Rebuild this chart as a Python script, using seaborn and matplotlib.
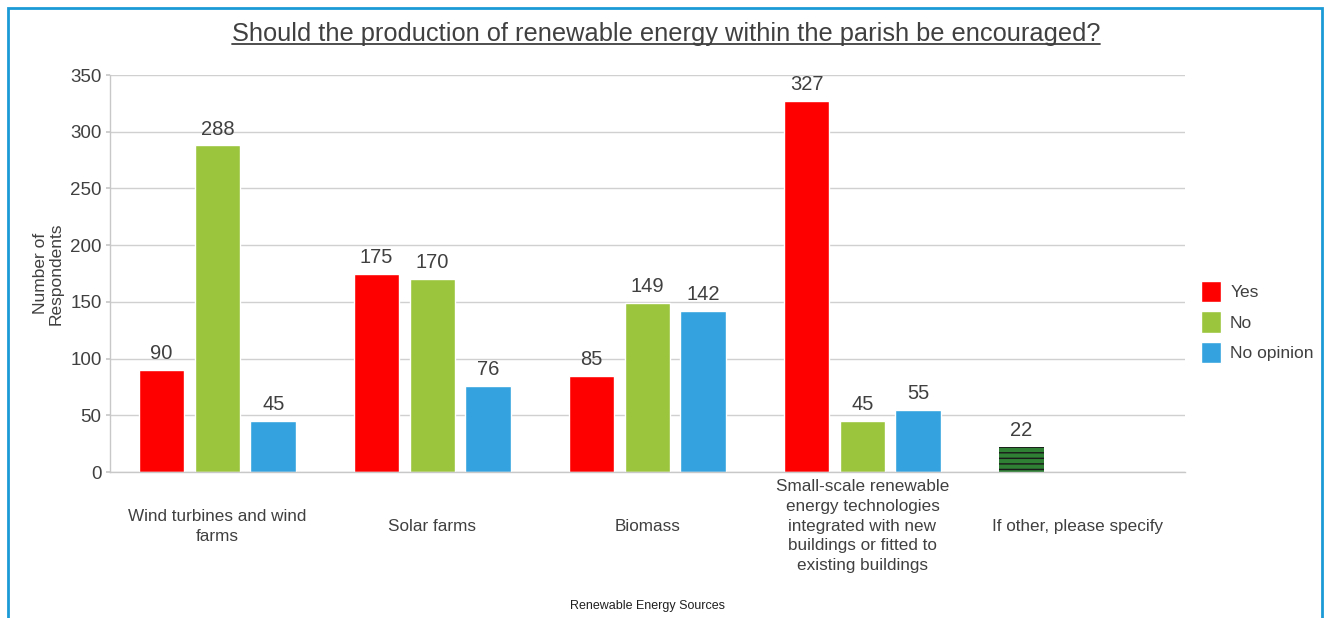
import matplotlib
matplotlib.use("Agg")
import matplotlib.pyplot as plt
from matplotlib.patches import Rectangle
from matplotlib.lines import Line2D
import numpy as np
import pandas as pd
import seaborn as sns

# Survey responses per renewable energy source
categories = [
    "Wind turbines and wind\nfarms",
    "Solar farms",
    "Biomass",
    "Small-scale renewable\nenergy technologies\nintegrated with new\nbuildings or fitted to\nexisting buildings",
    "If other, please specify",
]
responses = ["Yes", "No", "No opinion"]
yes_counts = [90, 175, 85, 327, 22]
no_counts = [288, 170, 149, 45, np.nan]
no_opinion_counts = [45, 76, 142, 55, np.nan]
y_ticks = [0, 50, 100, 150, 200, 250, 300, 350]

palette = {"Yes": "#FF0000", "No": "#9BC53D", "No opinion": "#33A2DE"}
other_colour = "#2F7F35"
text_colour = "#404040"

df = pd.DataFrame({
    "Source": categories * 3,
    "Response": [r for r in responses for _ in categories],
    "Count": yes_counts + no_counts + no_opinion_counts,
})

sns.set_theme(style="white")
plt.rcParams["font.family"] = ["Liberation Sans", "DejaVu Sans"]
plt.rcParams["hatch.color"] = "#1a1a1a"
plt.rcParams["hatch.linewidth"] = 1.0

fig = plt.figure(figsize=(13.28, 6.18), dpi=100)
ax = fig.add_axes([0.0828, 0.2362, 0.8095, 0.6424])

sns.barplot(data=df, x="Source", y="Count", hue="Response", order=categories,
            hue_order=responses, palette=palette, width=0.78, gap=0.18,
            saturation=1, ax=ax, legend=True)

# Value labels above each bar; the free-text bar gets its own fill
for container, resp in zip(ax.containers, responses):
    for i, (patch, val) in enumerate(zip(container.patches, df[df.Response == resp].Count)):
        if np.isnan(val):
            continue
        if resp == "Yes" and i == len(categories) - 1:
            patch.set_facecolor(other_colour)
            patch.set_hatch("---")
            patch.set_edgecolor("#1a1a1a")
            patch.set_linewidth(0)
        ax.text(patch.get_x() + patch.get_width() / 2, val + 6, f"{int(val)}",
                ha="center", va="bottom", fontsize=14.5, color=text_colour)

ax.set_xlim(-0.5, 4.5)
ax.set_ylim(0, 350)
ax.set_yticks(y_ticks)
ax.yaxis.grid(True, color="#D0D0D0", linewidth=1)
ax.set_axisbelow(True)
for side in ["top", "right"]:
    ax.spines[side].set_visible(False)
for side in ["left", "bottom"]:
    ax.spines[side].set_color("#C8C8C8")
    ax.spines[side].set_linewidth(1)
ax.tick_params(axis="y", length=3, color="#C8C8C8", labelsize=13.5,
               labelcolor=text_colour, pad=3, left=True)
ax.tick_params(axis="x", length=0, labelsize=12.3, labelcolor=text_colour, pad=39)
for lbl in ax.get_xticklabels():
    lbl.set_verticalalignment("center")
    lbl.set_multialignment("center")
    lbl.set_linespacing(1.4)

ax.set_xlabel("Renewable Energy Sources", fontsize=9, color="#202020", labelpad=0)
ax.xaxis.set_label_coords(0.5, -0.322)
ax.set_ylabel("Number of\nRespondents", fontsize=12.5, color=text_colour,
              labelpad=5, linespacing=1.05)

leg = ax.legend(loc="center left", bbox_to_anchor=(1.0, 0.378), frameon=False,
                fontsize=12.5, handlelength=1.2, handleheight=1.5,
                handletextpad=0.5, labelspacing=0.55, borderaxespad=0.5)
for t in leg.get_texts():
    t.set_color(text_colour)

# Underlined title
title = fig.text(0.5015, 0.945, "Should the production of renewable energy within the parish be encouraged?",
                 ha="center", va="center", fontsize=18.3, color=text_colour)
fig.canvas.draw()
bb = title.get_window_extent().transformed(fig.transFigure.inverted())
fig.add_artist(Line2D([bb.x0, bb.x1], [bb.y0 + 0.003, bb.y0 + 0.003],
                      transform=fig.transFigure, color=text_colour, linewidth=1.3))

# Blue frame around the chart area
fig.add_artist(Rectangle((8 / 1328, -0.05), (1322 - 8) / 1328, 1.05 - 8 / 618,
                         transform=fig.transFigure, fill=False,
                         edgecolor="#1B9AD6", linewidth=2))

fig.savefig("out.png", dpi=100)
